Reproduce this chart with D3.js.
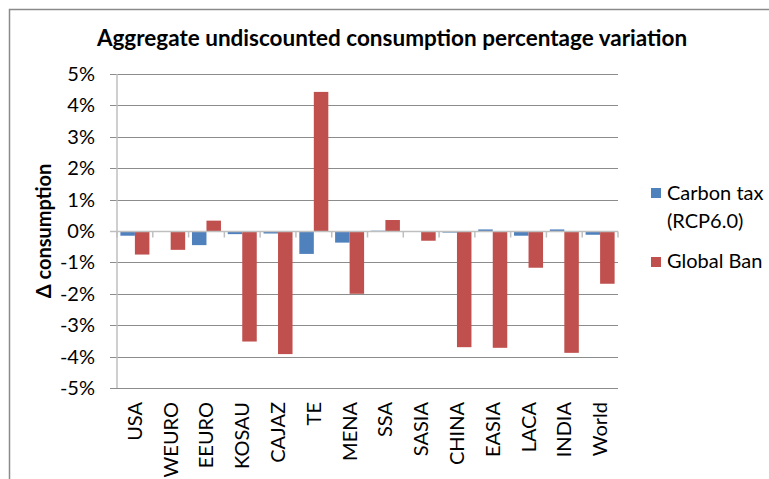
<!DOCTYPE html>
<html>
<head>
<meta charset="utf-8">
<script src="https://cdn.jsdelivr.net/npm/d3@7/dist/d3.min.js"></script>
<style>
  body { margin: 0; background: #fff; }
  svg { display: block; font-family: Lato, "Open Sans", sans-serif; }
</style>
</head>
<body>
<svg id="chart"></svg>
<script>
var regions = ["USA", "WEURO", "EEURO", "KOSAU", "CAJAZ", "TE", "MENA", "SSA", "SASIA", "CHINA", "EASIA", "LACA", "INDIA", "World"];
var carbonTax = [-0.15, 0, -0.45, -0.1, -0.08, -0.73, -0.37, 0.01, -0.02, -0.05, 0.05, -0.15, 0.05, -0.12];
var globalBan = [-0.75, -0.6, 0.33, -3.52, -3.92, 4.43, -2.0, 0.35, -0.31, -3.7, -3.72, -1.17, -3.88, -1.68];
var seriesNames = ["Carbon tax (RCP6.0)", "Global Ban"];
var yTicks = [5, 4, 3, 2, 1, 0, -1, -2, -3, -4, -5];

var width = 769,
    height = 479,
    colors = ["#4f81bd", "#c0504d"];

var svg = d3.select("#chart")
    .attr("width", width)
    .attr("height", height);

// chart border (runs off the right and bottom edges)
svg.append("rect")
    .attr("x", 9.5).attr("y", 9.5)
    .attr("width", 800).attr("height", 500)
    .attr("fill", "none")
    .attr("stroke", "#8a8a8a")
    .attr("stroke-width", 1.5);

var x = d3.scaleBand()
    .domain(regions)
    .range([117, 618]);

var x1 = d3.scaleBand()
    .domain(seriesNames)
    .range([0, x.bandwidth()])
    .paddingOuter(0.234);

var y = d3.scaleLinear()
    .domain([-5, 5])
    .range([388, 74]);

// gridlines, extending left past the axis as ticks
svg.append("g")
    .selectAll("line")
    .data(yTicks.filter(function (d) { return d !== 0; }))
    .enter().append("line")
    .attr("x1", 110).attr("x2", 618)
    .attr("y1", function (d) { return Math.round(y(d)) + 0.5; })
    .attr("y2", function (d) { return Math.round(y(d)) + 0.5; })
    .attr("stroke", "#8c8c8c");

// y tick labels
svg.append("g")
    .selectAll("text")
    .data(yTicks)
    .enter().append("text")
    .attr("x", 95)
    .attr("y", function (d) { return y(d); })
    .attr("dy", "0.35em")
    .attr("text-anchor", "end")
    .style("font-size", "20px")
    .attr("fill", "#000")
    .text(function (d) { return d + "%"; });

// bars
var rows = regions.map(function (r, i) { return {region: r, values: [carbonTax[i], globalBan[i]]}; });

svg.append("g")
    .selectAll("g")
    .data(rows)
    .enter().append("g")
    .attr("transform", function (d) { return "translate(" + x(d.region) + ",0)"; })
    .selectAll("rect")
    .data(function (d) { return d.values.map(function (v, i) { return {key: seriesNames[i], value: v, i: i}; }); })
    .enter().append("rect")
    .attr("x", function (d) { return x1(d.key); })
    .attr("width", x1.bandwidth())
    .attr("y", function (d) { return y(Math.max(0, d.value)); })
    .attr("height", function (d) { return Math.abs(y(d.value) - y(0)); })
    .attr("fill", function (d) { return colors[d.i]; });

// zero line with category ticks
var y0 = Math.round(y(0)) + 0.5;
svg.append("line")
    .attr("x1", 110).attr("x2", 618)
    .attr("y1", y0).attr("y2", y0)
    .attr("stroke", "#bfbfbf").attr("stroke-width", 1.5);

svg.append("g")
    .selectAll("line")
    .data(regions.concat(["end"]))
    .enter().append("line")
    .attr("x1", function (d, i) { return x.range()[0] + i * x.step(); })
    .attr("x2", function (d, i) { return x.range()[0] + i * x.step(); })
    .attr("y1", y0).attr("y2", y0 + 6)
    .attr("stroke", "#bfbfbf").attr("stroke-width", 1.5);

// vertical axis line
svg.append("line")
    .attr("x1", 117).attr("x2", 117)
    .attr("y1", 74).attr("y2", 388)
    .attr("stroke", "#bfbfbf").attr("stroke-width", 1.5);

// x labels, rotated
svg.append("g")
    .selectAll("text")
    .data(regions)
    .enter().append("text")
    .attr("transform", function (d) { return "translate(" + (x(d) + x.bandwidth() / 2 + 7) + ",402) rotate(-90)"; })
    .attr("text-anchor", "end")
    .style("font-size", "20px")
    .text(function (d) { return d; });

// title
svg.append("text")
    .attr("x", 392).attr("y", 46)
    .attr("text-anchor", "middle")
    .style("font-size", "22.5px")
    .style("font-weight", "bold")
    .text("Aggregate undiscounted consumption percentage variation");

// y axis title
svg.append("text")
    .attr("transform", "translate(51,231) rotate(-90)")
    .attr("text-anchor", "middle")
    .style("font-size", "20px")
    .style("font-weight", "bold")
    .text("\u0394 consumption");

// legend
var legend = svg.append("g");
legend.append("rect")
    .attr("x", 651).attr("y", 188).attr("width", 10).attr("height", 10)
    .attr("fill", colors[0]);
legend.append("text").attr("x", 667).attr("y", 200).style("font-size", "20px").text("Carbon tax");
legend.append("text").attr("x", 667).attr("y", 228).style("font-size", "20px").text("(RCP6.0)");
legend.append("rect")
    .attr("x", 651).attr("y", 257).attr("width", 10).attr("height", 10)
    .attr("fill", colors[1]);
legend.append("text").attr("x", 667).attr("y", 268).style("font-size", "20px").text("Global Ban");
</script>
</body>
</html>
